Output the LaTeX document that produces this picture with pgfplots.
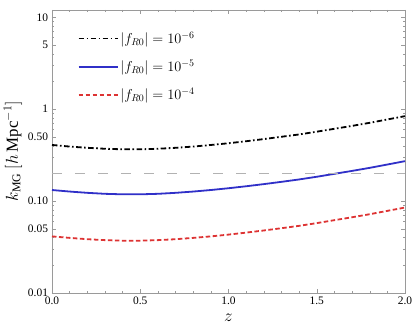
\documentclass[border=0pt]{standalone}
\usepackage{pgfplots}
\pgfplotsset{compat=1.18}
\usepackage{fontspec}
\setmainfont{Liberation Serif}
\definecolor{bluec}{HTML}{3030C8}
\definecolor{redc}{HTML}{DD3333}
\definecolor{framec}{HTML}{9A9A9A}
\tikzset{
  blackdd/.style={color=black, line width=1.8bp, dash pattern=on 5.5bp off 2.5bp on 1.6bp off 2.5bp},
  bluesl/.style={color=bluec, solid, line width=1.8bp},
  reddsh/.style={color=redc, line width=1.8bp, dash pattern=on 4.5bp off 2.5bp},
}
\begin{document}
\begin{tikzpicture}
\begin{axis}[
  scale only axis,
  width=353bp, height=283bp,
  ymode=log,
  xmin=0, xmax=2, ymin=0.01, ymax=12,
  axis line style={framec},
  every tick/.style={framec},
  major tick length=4bp, minor tick length=2.2bp,
  tick align=inside,
  xtick={0,0.5,1,1.5,2},
  xticklabels={0.0,0.5,1.0,1.5,2.0},
  minor x tick num=4,
  ytick={0.01,0.05,0.1,0.5,1,5,10},
  yticklabels={0.01,0.05,0.10,0.50,1,5,10},
  minor ytick={0.02,0.03,0.04,0.06,0.07,0.08,0.09,0.2,0.3,0.4,0.6,0.7,0.8,0.9,2,3,4,6,7,8,9},
  ticklabel style={font=\fontsize{11.5}{13}\selectfont, text=black},
  yticklabel style={xshift=-0.5bp},
  xticklabel style={yshift=-0.5bp},
  xlabel={$z$},
  ylabel={$k_{\mathrm{MG}}\ [h\,\mathrm{Mpc}^{-1}]$},
  label style={font=\fontsize{17}{19}\selectfont},
  xlabel style={yshift=-2bp},
  ylabel style={yshift=-1bp},
  legend style={draw=none, fill=none, at={(0.072,0.93)}, anchor=north west,
    inner sep=0pt, font=\fontsize{14}{16}\selectfont, row sep=11bp},
  legend cell align=left,
]
\addplot[blackdd, legend image code/.code={\draw[blackdd] (0cm,0cm) -- (39bp,0cm);}] coordinates {
(0,0.408) (0.1,0.392) (0.2,0.380) (0.3,0.371) (0.4,0.366) (0.5,0.366) (0.6,0.371) (0.7,0.380) (0.8,0.392) (0.9,0.408) (1.0,0.426) (1.1,0.448) (1.2,0.473) (1.3,0.501) (1.4,0.531) (1.5,0.569) (1.6,0.612) (1.7,0.658) (1.8,0.711) (1.9,0.773) (2.0,0.840)};
\addlegendentry{$|f_{R0}|=10^{-6}$}
\addplot[bluesl, legend image code/.code={\draw[bluesl] (0cm,0cm) -- (39bp,0cm);}] coordinates {
(0,0.132) (0.1,0.127) (0.2,0.123) (0.3,0.120) (0.4,0.1185) (0.5,0.1185) (0.6,0.120) (0.7,0.123) (0.8,0.127) (0.9,0.132) (1.0,0.138) (1.1,0.145) (1.2,0.153) (1.3,0.162) (1.4,0.172) (1.5,0.184) (1.6,0.198) (1.7,0.213) (1.8,0.230) (1.9,0.250) (2.0,0.272)};
\addlegendentry{$|f_{R0}|=10^{-5}$}
\addplot[reddsh, legend image code/.code={\draw[reddsh] (0cm,0cm) -- (39bp,0cm);}] coordinates {
(0,0.0413) (0.1,0.0398) (0.2,0.0385) (0.3,0.0376) (0.4,0.0371) (0.5,0.0371) (0.6,0.0376) (0.7,0.0385) (0.8,0.0398) (0.9,0.0413) (1.0,0.0432) (1.1,0.0454) (1.2,0.0479) (1.3,0.0507) (1.4,0.0538) (1.5,0.0576) (1.6,0.0620) (1.7,0.0667) (1.8,0.0720) (1.9,0.0783) (2.0,0.0851)};
\addlegendentry{$|f_{R0}|=10^{-4}$}
\addplot[color=black!30, line width=0.9bp, dash pattern=on 10bp off 13bp, forget plot] coordinates {(0,0.2) (2,0.2)};
\end{axis}
\pgfresetboundingbox
\path[use as bounding box] ([shift={(-52bp,-42bp)}]current axis.south west) rectangle ([shift={(10bp,10bp)}]current axis.north east);
\end{tikzpicture}
\end{document}
